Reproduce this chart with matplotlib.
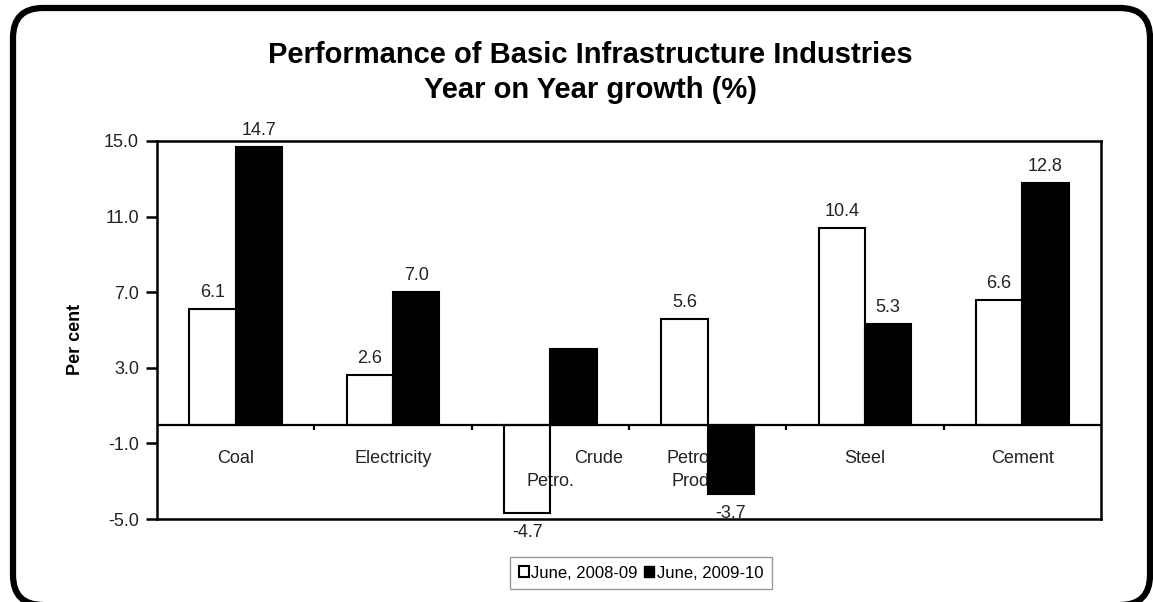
import numpy as np
import matplotlib
matplotlib.use('Agg')
import matplotlib.pyplot as plt
from matplotlib.patches import FancyBboxPatch, Patch

plt.rcParams['font.family'] = ['Liberation Sans', 'DejaVu Sans']

# data
categories = ['Coal', 'Electricity', 'Crude\nPetro.', 'Petro.\nProd.', 'Steel', 'Cement']
series = ['June, 2008-09', 'June, 2009-10']
growth_0809 = [6.1, 2.6, -4.7, 5.6, 10.4, 6.6]
growth_0910 = [14.7, 7.0, 4.0, -3.7, 5.3, 12.8]
labels_0809 = ['6.1', '2.6', '-4.7', '5.6', '10.4', '6.6']
labels_0910 = ['14.7', '7.0', '', '-3.7', '5.3', '12.8']
yticks = [-5.0, -1.0, 3.0, 7.0, 11.0, 15.0]

W, H = 1153, 602
fig = plt.figure(figsize=(W / 100, H / 100), dpi=100)
ax = fig.add_axes([157 / W, 83 / H, 944 / W, 378 / H])

x = np.arange(len(categories))
bw = 0.295
ax.bar(x - bw / 2, growth_0809, bw, facecolor='none', edgecolor='black', linewidth=1.5, zorder=3)
ax.bar(x + bw / 2, growth_0910, bw, color='black', edgecolor='black', linewidth=1.5, zorder=3)

ax.set_xlim(-0.5, len(categories) - 0.5)
ax.set_ylim(-5, 15)
ax.set_yticks(yticks)
ax.set_yticklabels([f'{t:.1f}' for t in yticks])
ax.set_xticks([])
ax.tick_params(axis='y', direction='out', length=8, width=1.8, labelsize=13, pad=5, labelcolor='#222222')
for sp in ax.spines.values():
    sp.set_linewidth(1.8)

# category axis at zero with boundary ticks pointing down
ax.axhline(0, color='black', linewidth=1.6, zorder=2.5)
ax.vlines(x[:-1] + 0.5, 0, -0.28, color='black', linewidth=1.6, zorder=2.5)

# data labels
for off, vals, labs in [(-bw / 2, growth_0809, labels_0809), (bw / 2, growth_0910, labels_0910)]:
    for xi, v, lab in zip(x, vals, labs):
        if not lab:
            continue
        if v >= 0:
            ax.annotate(lab, (xi + off, v), xytext=(0, 8), textcoords='offset pixels',
                        ha='center', va='bottom', fontsize=13, color='#222222')
        else:
            ax.annotate(lab, (xi + off, v), xytext=(0, -11), textcoords='offset pixels',
                        ha='center', va='top', fontsize=13, color='#222222')

# category names, drawn behind the bars like in the original
line_shift = {2: [48, 0], 3: [-17, -15]}
for xi, name in zip(x, categories):
    lines = name.split('\n')
    shifts = line_shift.get(xi, [0] * len(lines))
    for k, (line, dx) in enumerate(zip(lines, shifts)):
        ax.annotate(line, (xi, 0), xytext=(dx, -34 - 23 * k), textcoords='offset pixels',
                    ha='center', va='center', fontsize=13, color='#222222', zorder=2)

fig.text(590 / W, 1 - 63 / H, 'Performance of Basic Infrastructure Industries',
         ha='center', va='baseline', fontsize=21, fontweight='bold')
fig.text(590 / W, 1 - 98 / H, 'Year on Year growth (%)',
         ha='center', va='baseline', fontsize=21, fontweight='bold')
fig.text(75 / W, 1 - 339 / H, 'Per cent', rotation=90, ha='center', va='center',
         fontsize=13, fontweight='bold')

handles = [Patch(facecolor='white', edgecolor='black', linewidth=1.5),
           Patch(facecolor='black', edgecolor='black')]
leg = fig.legend(handles, series, loc='center', bbox_to_anchor=(641 / W, 0.048), ncol=2,
                 frameon=True, fancybox=False, edgecolor='#808080', fontsize=12,
                 handlelength=0.6, handleheight=0.6, handletextpad=0.15,
                 columnspacing=0.4, borderpad=0.5)
leg.get_frame().set_linewidth(1.0)

border = FancyBboxPatch((0.13, -0.03), 11.37, 5.97, boxstyle='round,pad=0,rounding_size=0.3',
                        transform=fig.dpi_scale_trans, fill=False, linewidth=4.5,
                        edgecolor='black', clip_on=False)
fig.add_artist(border)

fig.savefig('out.png', dpi=100, facecolor='white')
